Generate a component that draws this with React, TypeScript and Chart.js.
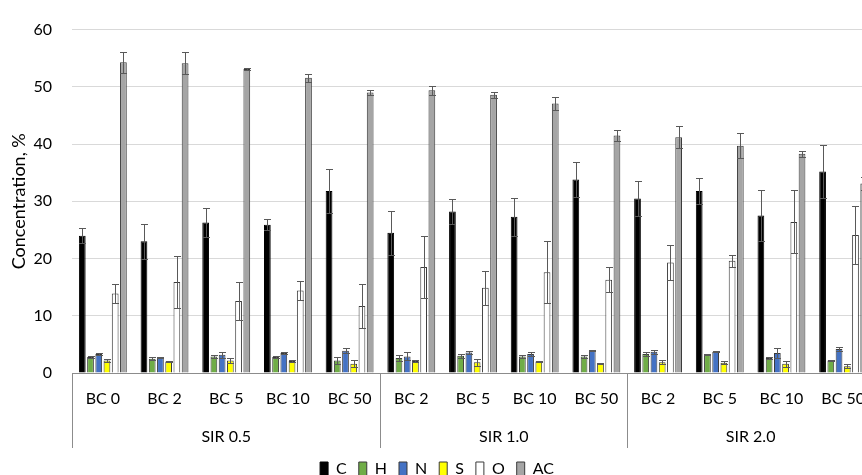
import React, { useEffect, useRef } from 'react';
import { Chart, registerables } from 'chart.js';

Chart.register(...registerables);

// ---- data ----
const categories = ['BC 0', 'BC 2', 'BC 5', 'BC 10', 'BC 50', 'BC 2', 'BC 5', 'BC 10', 'BC 50', 'BC 2', 'BC 5', 'BC 10', 'BC 50'];
const groupLabels = ['SIR 0.5', 'SIR 1.0', 'SIR 2.0'];
const groupSizes = [5, 4, 4];
const seriesNames = ['C', 'H', 'N', 'S', 'O', 'AC'];

const C = [24.0, 23.0, 26.3, 25.9, 31.8, 24.5, 28.2, 27.3, 33.8, 30.5, 31.8, 27.5, 35.2];
const C_err = [1.3, 3.0, 2.6, 1.0, 3.9, 3.8, 2.2, 3.3, 3.0, 3.1, 2.3, 4.5, 4.6];
const H = [2.8, 2.5, 2.9, 2.8, 2.2, 2.6, 3.0, 2.9, 2.9, 3.3, 3.3, 2.6, 2.2];
const H_err = [0.2, 0.3, 0.2, 0.2, 0.6, 0.5, 0.4, 0.3, 0.3, 0.3, 0.1, 0.2, 0.1];
const N = [3.3, 2.7, 3.2, 3.5, 3.9, 2.9, 3.6, 3.3, 3.9, 3.7, 3.7, 3.5, 4.2];
const N_err = [0.2, 0.1, 0.5, 0.1, 0.4, 0.7, 0.3, 0.4, 0.1, 0.4, 0.1, 0.8, 0.3];
const S = [2.2, 2.0, 2.2, 2.1, 1.6, 2.1, 1.9, 2.0, 1.7, 1.9, 1.8, 1.6, 1.2];
const S_err = [0.3, 0.1, 0.4, 0.2, 0.6, 0.2, 0.6, 0.1, 0.1, 0.3, 0.3, 0.5, 0.4];
const O = [13.9, 15.9, 12.6, 14.4, 11.7, 18.5, 14.9, 17.6, 16.3, 19.3, 19.6, 26.4, 24.1];
const O_err = [1.7, 4.6, 3.3, 1.7, 3.9, 5.4, 3.0, 5.4, 2.2, 3.0, 1.1, 5.5, 5.1];
const AC = [54.3, 54.1, 53.1, 51.6, 49.0, 49.4, 48.6, 47.1, 41.5, 41.2, 39.7, 38.3, 33.1];
const AC_err = [1.8, 1.9, 0.2, 0.7, 0.4, 0.8, 0.5, 1.1, 1.0, 1.9, 2.2, 0.5, 1.1];

const yMin = 0;
const yMax = 60;
const yStep = 10;
const yTitle = 'Concentration, %';

const seriesValues = [C, H, N, S, O, AC];
const seriesErrors = [C_err, H_err, N_err, S_err, O_err, AC_err];
const seriesFill = ['#000000', '#70AD47', '#4472C4', '#FFFF00', '#FFFFFF', '#A5A5A5'];
const seriesBorder = ['#000000', '#3a3a3a', '#3a3a3a', '#3a3a3a', '#3a3a3a', '#3a3a3a'];

const FONT = 'Lato';

const errorBarPlugin = {
  id: 'errorBars',
  afterDatasetsDraw(chart: any) {
    const ctx = chart.ctx;
    const y = chart.scales.y;
    ctx.save();
    ctx.strokeStyle = '#595959';
    ctx.lineWidth = 1;
    chart.data.datasets.forEach((ds: any, di: number) => {
      const meta = chart.getDatasetMeta(di);
      meta.data.forEach((bar: any, i: number) => {
        const v = ds.data[i];
        const e = ds.errors[i];
        const x = Math.round(bar.x) + 0.5;
        const yTop = Math.round(y.getPixelForValue(v + e)) + 0.5;
        const yBot = Math.round(y.getPixelForValue(v - e)) + 0.5;
        const hw = 3.5;
        ctx.beginPath();
        ctx.moveTo(x, yTop);
        ctx.lineTo(x, yBot);
        ctx.moveTo(x - hw, yTop);
        ctx.lineTo(x + hw, yTop);
        ctx.moveTo(x - hw, yBot);
        ctx.lineTo(x + hw, yBot);
        ctx.stroke();
      });
    });
    ctx.restore();
  },
};

const groupAxisPlugin = {
  id: 'groupAxis',
  afterDraw(chart: any) {
    const ctx = chart.ctx;
    const xs = chart.scales.x;
    const top = chart.chartArea.bottom;
    const step = xs.getPixelForValue(1) - xs.getPixelForValue(0);
    ctx.save();
    ctx.strokeStyle = '#8c8c8c';
    ctx.lineWidth = 1;
    ctx.fillStyle = '#000';
    ctx.font = `16px ${FONT}`;
    ctx.textAlign = 'center';
    ctx.textBaseline = 'middle';
    let start = 0;
    const drawLine = (px: number) => {
      const xx = Math.round(px) + 0.5;
      ctx.beginPath();
      ctx.moveTo(xx, top);
      ctx.lineTo(xx, top + 75);
      ctx.stroke();
    };
    groupLabels.forEach((label, g) => {
      const size = groupSizes[g];
      const left = xs.getPixelForValue(start) - step / 2;
      const right = xs.getPixelForValue(start + size - 1) + step / 2;
      drawLine(left);
      if (g === groupLabels.length - 1) drawLine(right);
      ctx.fillText(label, (left + right) / 2, top + 64);
      start += size;
    });
    ctx.restore();
  },
};

export default function App() {
  const ref = useRef<HTMLCanvasElement | null>(null);

  useEffect(() => {
    if (!ref.current) return;
    const chart = new Chart(ref.current, {
      type: 'bar',
      data: {
        labels: categories,
        datasets: seriesNames.map((name, i) => ({
          label: name,
          data: seriesValues[i],
          errors: seriesErrors[i],
          backgroundColor: seriesFill[i],
          borderColor: seriesBorder[i],
          borderWidth: 1,
          categoryPercentage: 0.8,
          barPercentage: 0.82,
        })) as any,
      },
      options: {
        responsive: false,
        animation: false,
        layout: { padding: { left: 0, right: 10, top: 26, bottom: 0 } },
        plugins: {
          legend: {
            position: 'bottom',
            labels: {
              boxWidth: 8,
              boxHeight: 14,
              padding: 12,
              color: '#000',
              font: { family: FONT, size: 16 },
            },
          },
          tooltip: { enabled: false },
        },
        scales: {
          x: {
            grid: { display: false, drawTicks: false },
            border: { display: true, color: '#8c8c8c', width: 1 },
            ticks: {
              color: '#000',
              font: { family: FONT, size: 16 },
              padding: 16,
              autoSkip: false,
              maxRotation: 0,
            },
            afterFit: (s: any) => {
              s.height = 76;
            },
          },
          y: {
            min: yMin,
            max: yMax,
            ticks: {
              stepSize: yStep,
              color: '#000',
              font: { family: FONT, size: 16 },
              padding: 20,
            },
            grid: { color: '#d9d9d9', drawTicks: false },
            border: { display: false },
            title: {
              display: true,
              text: yTitle,
              color: '#000',
              font: { family: FONT, size: 18 },
              padding: { top: 8, bottom: 4 },
            },
            afterFit: (s: any) => {
              s.width = 72;
            },
          },
        },
      },
      plugins: [errorBarPlugin, groupAxisPlugin],
    });
    return () => chart.destroy();
  }, []);

  return (
    <div style={{ position: 'fixed', left: 0, top: 0, width: 862, height: 475, overflow: 'hidden', background: '#fff' }}>
      <canvas ref={ref} width={884} height={487} style={{ display: 'block' }} />
    </div>
  );
}
